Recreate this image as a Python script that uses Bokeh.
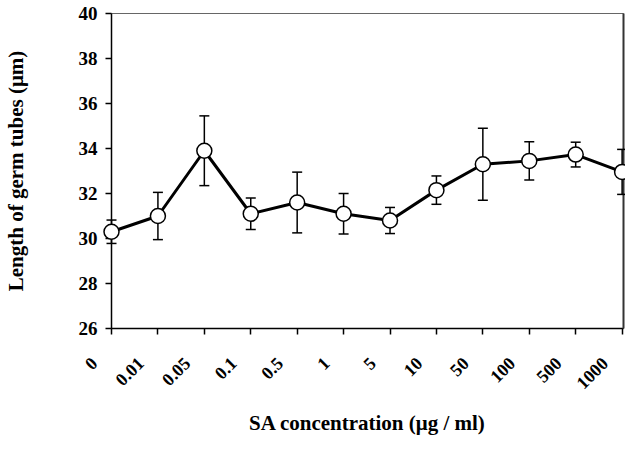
from math import pi
from bokeh.plotting import figure
from bokeh.models import Range1d, FixedTicker, LinearAxis, ColumnDataSource
from bokeh.core.properties import value
from bokeh.embed import file_html
from bokeh.resources import INLINE

concentrations = ["0", "0.01", "0.05", "0.1", "0.5", "1", "5", "10", "50", "100", "500", "1000"]
length_mean = [30.3, 31.0, 33.9, 31.1, 31.6, 31.1, 30.8, 32.15, 33.3, 33.45, 33.73, 32.96]
length_err = [0.52, 1.05, 1.55, 0.7, 1.35, 0.9, 0.58, 0.63, 1.6, 0.85, 0.55, 1.0]
y_ticks = [26, 28, 30, 32, 34, 36, 38, 40]

FONT = "Liberation Serif"
W, H = 625, 437
LEFT, RIGHT, TOP, BOTTOM = 108, 2, 13, 104
xs = list(range(len(concentrations)))
n_last = len(concentrations) - 1

src = ColumnDataSource(dict(
    x=xs,
    y=length_mean,
    upper=[m + e for m, e in zip(length_mean, length_err)],
    lower=[m - e for m, e in zip(length_mean, length_err)],
))
lab_src = ColumnDataSource(dict(x=xs, y=[y_ticks[0]] * len(xs), text=concentrations))

p = figure(width=W, height=H, output_backend="svg", toolbar_location=None,
           x_range=Range1d(0, n_last + 0.03), y_range=Range1d(y_ticks[0], y_ticks[-1]),
           min_border_left=LEFT, min_border_right=RIGHT, min_border_top=TOP,
           min_border_bottom=BOTTOM)
p.xgrid.visible = False
p.ygrid.visible = False
p.outline_line_color = "#666666"
p.outline_line_width = 1
p.background_fill_color = "white"
p.border_fill_color = "white"

# x axis: line, tick marks at each category, title
xa = p.xaxis[0]
xa.ticker = FixedTicker(ticks=[], minor_ticks=xs)
xa.axis_line_width = 1.5
xa.axis_line_color = "black"
xa.major_tick_out = 0
xa.major_tick_in = 0
xa.major_label_standoff = 0
xa.minor_tick_line_color = "black"
xa.minor_tick_line_width = 1.5
xa.minor_tick_out = 6
xa.minor_tick_in = 0
xa.axis_label = "SA concentration (\u03bcg / ml)"
xa.axis_label_standoff = 76
xa.axis_label_text_font = FONT
xa.axis_label_text_font_style = "bold"
xa.axis_label_text_font_size = "21px"
xa.axis_label_text_color = "black"

ya = p.yaxis[0]
ya.ticker = FixedTicker(ticks=y_ticks)
ya.axis_line_width = 1.5
ya.axis_line_color = "black"
ya.major_tick_line_width = 1.5
ya.major_tick_line_color = "black"
ya.major_tick_out = 6
ya.major_tick_in = 0
ya.minor_tick_line_color = None
ya.major_label_text_font = FONT
ya.major_label_text_font_style = "bold"
ya.major_label_text_font_size = "19px"
ya.major_label_text_color = "black"
ya.major_label_standoff = 8
ya.axis_label = "Length of germ tubes (\u03bcm)"
ya.axis_label_standoff = 48
ya.axis_label_text_font = FONT
ya.axis_label_text_font_style = "bold"
ya.axis_label_text_font_size = "21px"
ya.axis_label_text_color = "black"

right = LinearAxis(ticker=FixedTicker(ticks=[]), axis_line_width=2, axis_line_color="#333333",
                   major_tick_line_color=None, minor_tick_line_color=None,
                   major_tick_out=0, major_tick_in=0, minor_tick_out=0, minor_tick_in=0,
                   major_label_standoff=0)
p.add_layout(right, "right")

# rotated category labels under the ticks (overlay level: drawn outside the frame)
p.text(x="x", y="y", text="text", source=lab_src, angle=pi / 4, x_offset=-22, y_offset=27,
       text_align="right", text_baseline="top", text_font=value(FONT),
       text_font_style="bold", text_font_size="18px", text_color="black", level="overlay")

# error bars, line and markers (overlay level so edge markers are not clipped)
p.segment(x0="x", y0="lower", x1="x", y1="upper", source=src, line_width=1.5,
          line_color="black", level="overlay")
p.scatter("x", "upper", source=src, marker="dash", size=10, line_width=1.5,
          line_color="black", level="overlay")
p.scatter("x", "lower", source=src, marker="dash", size=10, line_width=1.5,
          line_color="black", level="overlay")
p.line("x", "y", source=src, line_width=3, line_color="black", level="overlay")
p.scatter("x", "y", source=src, size=15, marker="circle", fill_color="white",
          line_color="black", line_width=1.5, level="overlay")

open("out.html", "w").write(file_html(p, INLINE))
